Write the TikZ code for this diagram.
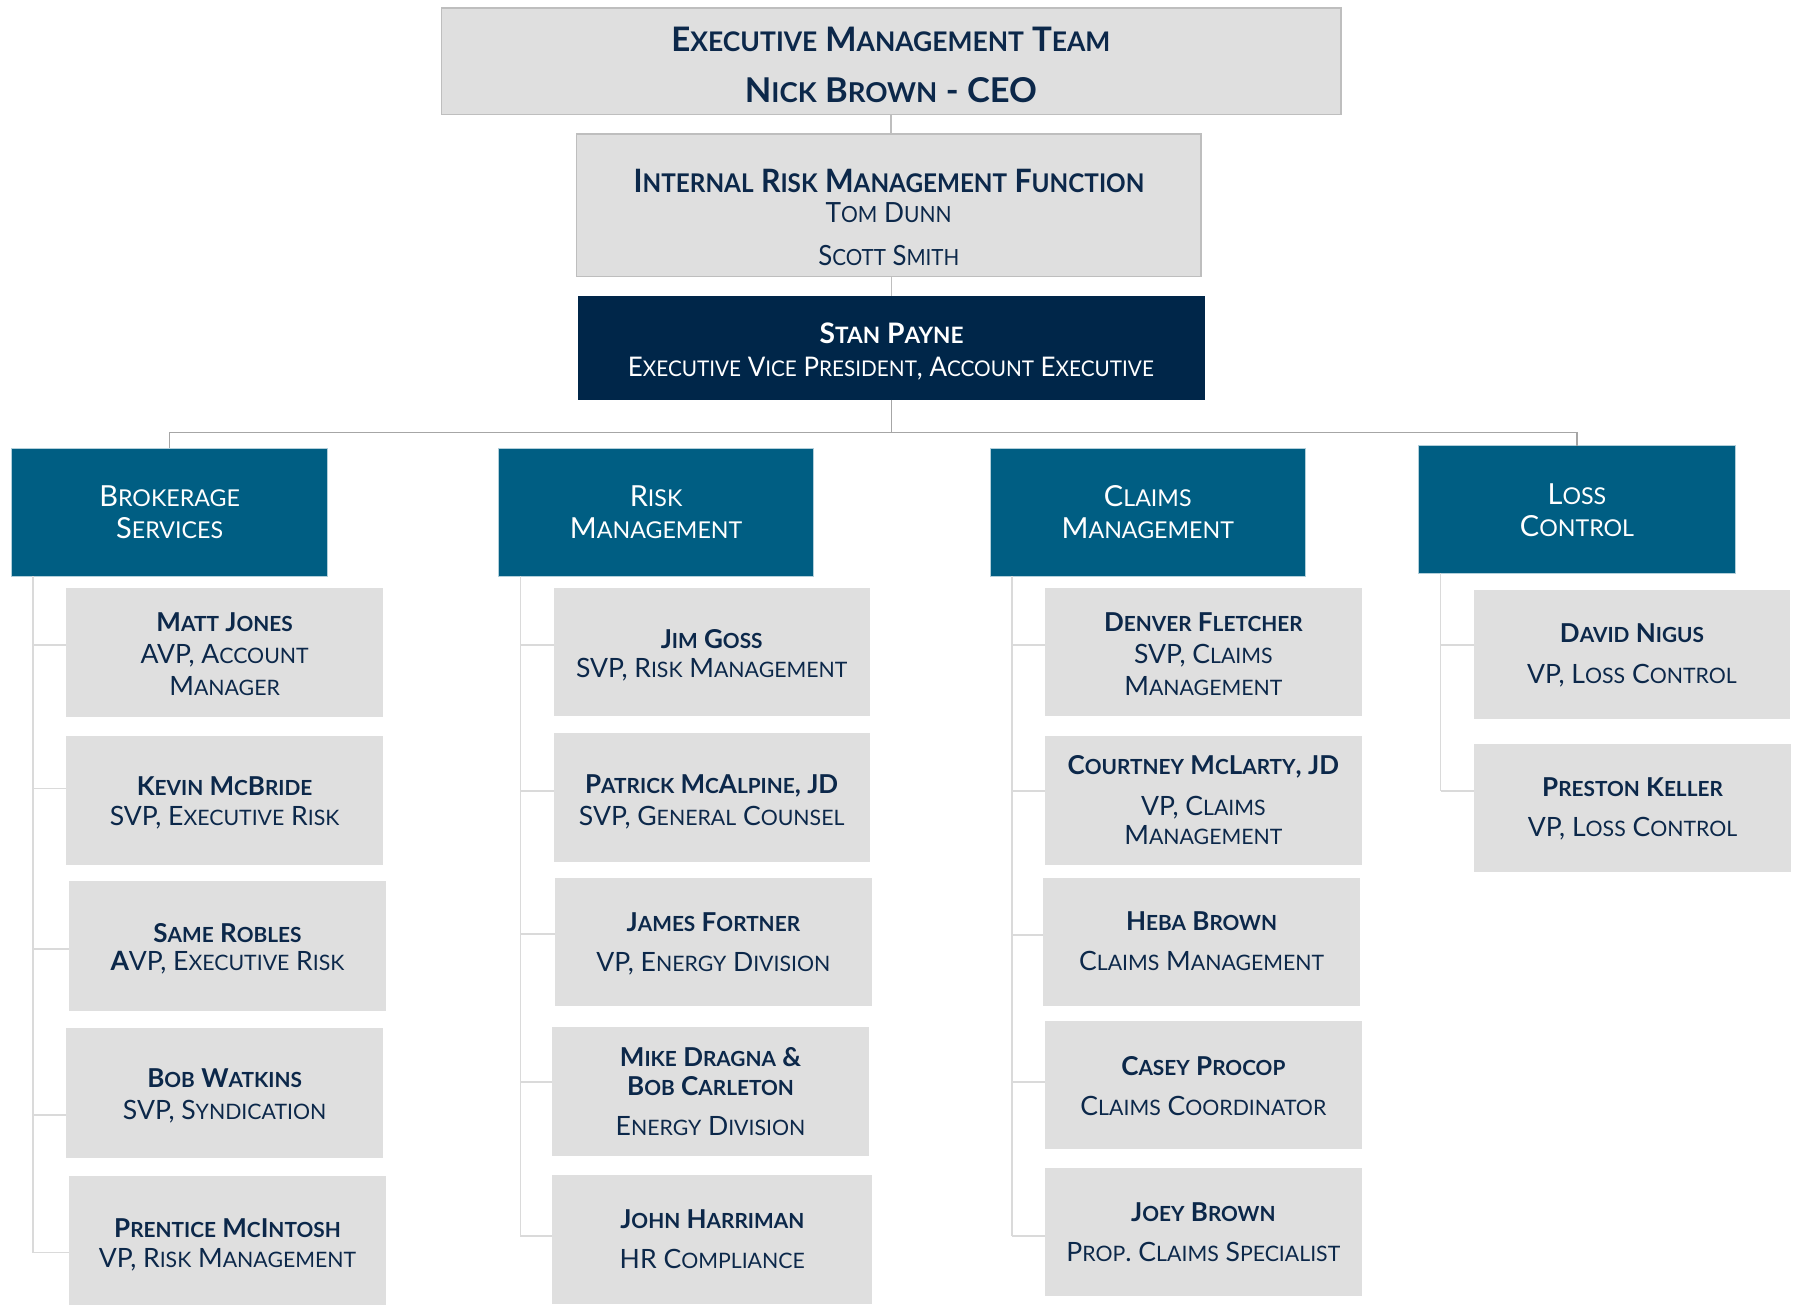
\documentclass[tikz,border=0pt]{standalone}
\usepackage{fontspec}
\usepackage{graphicx}
\setmainfont{Lato}

\definecolor{boxgray}{RGB}{223,223,223}
\definecolor{edgegray}{RGB}{190,190,190}
\definecolor{navy}{RGB}{0,38,73}
\definecolor{deptblue}{RGB}{0,94,131}
\definecolor{ink}{RGB}{12,40,74}
\definecolor{busgray}{RGB}{166,166,166}
\definecolor{stemgray}{RGB}{218,218,218}

% small capitals built from capitals: every run of lower-case letters is
% upper-cased at a reduced size
\ExplSyntaxOn
\NewDocumentCommand\fsc{m}
 {
  \tl_set:Nn \l_tmpa_tl {#1}
  \regex_replace_all:nnN { ([a-z]+) } { \c{lowsc}\cB\{\1\cE\} } \l_tmpa_tl
  \tl_use:N \l_tmpa_tl
 }
\ExplSyntaxOff
\makeatletter
\newcommand\lowsc[1]{{\fontsize{\fpeval{0.8*\f@size}}{\f@baselineskip}\selectfont\MakeUppercase{#1}}}
\makeatother

% box from its corners (x1,y1) (x2,y2), y measured downwards
\newcommand\boxnode[6]{%
  \node[#2, minimum width={(#5)-(#3)}, minimum height={(#6)-(#4)}] (#1)
    at ({((#3)+(#5))/2},{-((#4)+(#6))/2}) {};}
% one line of text, placed on its baseline
\newcommand\putline[5]{\node[#1] (#2) at (#3,-#4) {\fsc{#5}};}
% one line of text squeezed to a given width and cap height
\newcommand\fitline[7]{\node[#1] (#2) at (#3,-#4) {\resizebox{#5pt}{#6pt}{#7}};}

\begin{document}
\begin{tikzpicture}[x=1pt,y=1pt,
  box/.style={rectangle, fill=boxgray, inner sep=0pt, outer sep=0pt},
  topbox/.style={box, draw=edgegray, line width=1.2pt},
  leadbox/.style={rectangle, fill=navy, inner sep=0pt, outer sep=0pt},
  deptbox/.style={rectangle, fill=deptblue, draw=deptblue!30!white, line width=0.8pt, inner sep=0pt, outer sep=0pt},
  nm/.style={anchor=base, inner sep=0pt, text=ink, font=\fontsize{22.7}{26}\selectfont\bfseries},
  ttl/.style={anchor=base, inner sep=0pt, text=ink, font=\fontsize{23.2}{26}\selectfont},
  dtxt/.style={anchor=base, inner sep=0pt, text=white, font=\fontsize{25.3}{28}\selectfont},
  fit/.style={anchor=base, inner sep=0pt, text=ink},
  fitw/.style={anchor=base, inner sep=0pt, text=white},
  topline/.style={draw=edgegray, line width=1.3pt},
  bus/.style={draw=busgray, line width=1.3pt},
  stem/.style={draw=stemgray, line width=1.3pt}]

\fill[white] (0,0) rectangle (1568,-1140);
\useasboundingbox (0,0) rectangle (1568,-1140);

% ---------- top of the chart ----------
\boxnode{top}{topbox}{385}{7}{1170}{100}
\fitline{fit}{emt}{777.4}{45.1}{383}{21.3}{\bfseries\fsc{Executive Management Team}}
\fitline{fit}{ceo}{777.4}{89.6}{255}{21.8}{\bfseries\fsc{Nick Brown - CEO}}

\boxnode{irm}{topbox}{503}{117}{1048}{241}
\fitline{fit}{irmA}{775.8}{168.1}{445.6}{20.3}{\bfseries\fsc{Internal Risk Management Function}}
\fitline{fit}{irmB}{775.3}{194.3}{110}{17.4}{\fsc{Tom Dunn}}
\fitline{fit}{irmC}{775.6}{231.6}{123}{17.6}{\fsc{Scott Smith}}

\boxnode{stan}{leadbox}{504.4}{258}{1051}{349}
\fitline{fitw}{stanA}{778}{299.6}{125.5}{18}{\bfseries\fsc{Stan Payne}}
\fitline{fitw}{stanB}{777.4}{328.1}{459}{16.9}{\fsc{Executive Vice President, Account Executive}}

\draw[topline] (top.south) -- (top.south |- irm.north);
\draw[topline] (stan.north |- irm.south) -- (stan.north);

% ---------- departments ----------
\boxnode{brok}{deptbox}{10}{391}{286}{503}
\putline{dtxt}{brokA}{148}{442}{Brokerage}
\putline{dtxt}{brokB}{148}{470}{Services}

\boxnode{risk}{deptbox}{435}{391}{710}{503}
\putline{dtxt}{riskA}{572.5}{442}{Risk}
\putline{dtxt}{riskB}{572.5}{470}{Management}

\boxnode{claims}{deptbox}{864}{391}{1139}{503}
\putline{dtxt}{claimsA}{1001.5}{442}{Claims}
\putline{dtxt}{claimsB}{1001.5}{470}{Management}

\boxnode{loss}{deptbox}{1238}{389}{1514}{500}
\putline{dtxt}{lossA}{1376}{440}{Loss}
\putline{dtxt}{lossB}{1376}{468}{Control}

\coordinate (bus) at (778,-377.5);
\draw[bus] (stan.south) -- (stan.south |- bus);
\draw[bus] (brok.north) -- (brok.north |- bus) -- (loss.north |- bus) -- (loss.north);

% ---------- brokerage services ----------
\boxnode{matt}{box}{58}{513}{334}{626}
\putline{nm}{mattA}{196}{551}{Matt Jones}
\putline{ttl}{mattB}{196}{579}{AVP, Account}
\putline{ttl}{mattC}{196}{607}{Manager}

\boxnode{kevin}{box}{58}{642}{334}{755}
\putline{nm}{kevinA}{196}{694}{Kevin McBride}
\putline{ttl}{kevinB}{196}{720}{SVP, Executive Risk}

\boxnode{same}{box}{60}{769}{337}{882}
\putline{nm}{sameA}{198.5}{822}{Same Robles}
\putline{ttl}{sameB}{198.5}{847}{{\bfseries A}VP, Executive Risk}

\boxnode{bob}{box}{58}{897}{334}{1010}
\putline{nm}{bobA}{196}{949}{Bob Watkins}
\putline{ttl}{bobB}{196}{977}{SVP, Syndication}

\boxnode{prentice}{box}{60}{1026}{337}{1139}
\putline{nm}{prenticeA}{198.5}{1080}{Prentice McIntosh}
\putline{ttl}{prenticeB}{198.5}{1106}{VP, Risk Management}

\draw[stem] (brok.south -| 29,0) -- (29,-1093);
\draw[stem] (29,-563) -- (matt.west |- 0,-563);
\draw[stem] (29,-688) -- (kevin.west |- 0,-688);
\draw[stem] (29,-828) -- (same.west |- 0,-828);
\draw[stem] (29,-973) -- (bob.west |- 0,-973);
\draw[stem] (29,-1093) -- (prentice.west |- 0,-1093);

% ---------- risk management ----------
\boxnode{jim}{box}{483}{513}{759}{625}
\putline{nm}{jimA}{621}{566}{Jim Goss}
\putline{ttl}{jimB}{621}{591}{SVP, Risk Management}

\boxnode{patrick}{box}{483}{640}{759}{752}
\putline{nm}{patrickA}{621}{692}{Patrick McAlpine, JD}
\putline{ttl}{patrickB}{621}{720}{SVP, General Counsel}

\boxnode{james}{box}{484}{766}{761}{878}
\putline{nm}{jamesA}{622.5}{813}{James Fortner}
\putline{ttl}{jamesB}{622.5}{848}{VP, Energy Division}

\boxnode{mike}{box}{482}{896}{758}{1009}
\putline{nm}{mikeA}{620}{931}{Mike Dragna \&}
\putline{nm}{mikeB}{620}{956}{Bob Carleton}
\putline{ttl}{mikeC}{620}{991}{Energy Division}

\boxnode{john}{box}{482}{1025}{761}{1138}
\putline{nm}{johnA}{621.5}{1072}{John Harriman}
\putline{ttl}{johnB}{621.5}{1107}{HR Compliance}

\draw[stem] (risk.south -| 454,0) -- (454,-1078.5);
\draw[stem] (454,-563) -- (jim.west |- 0,-563);
\draw[stem] (454,-690) -- (patrick.west |- 0,-690);
\draw[stem] (454,-815) -- (james.west |- 0,-815);
\draw[stem] (454,-944) -- (mike.west |- 0,-944);
\draw[stem] (454,-1078.5) -- (john.west |- 0,-1078.5);

% ---------- claims management ----------
\boxnode{denver}{box}{912}{513}{1188}{625}
\putline{nm}{denverA}{1050}{551}{Denver Fletcher}
\putline{ttl}{denverB}{1050}{579}{SVP, Claims}
\putline{ttl}{denverC}{1050}{607}{Management}

\boxnode{courtney}{box}{912}{642}{1188}{755}
\putline{nm}{courtneyA}{1050}{676}{Courtney McLarty, JD}
\putline{ttl}{courtneyB}{1050}{712}{VP, Claims}
\putline{ttl}{courtneyC}{1050}{737}{Management}

\boxnode{heba}{box}{910}{766}{1187}{878}
\putline{nm}{hebaA}{1048.5}{812}{Heba Brown}
\putline{ttl}{hebaB}{1048.5}{847}{Claims Management}

\boxnode{casey}{box}{912}{891}{1188}{1003}
\putline{nm}{caseyA}{1050}{938}{Casey Procop}
\putline{ttl}{caseyB}{1050}{973}{Claims Coordinator}

\boxnode{joey}{box}{912}{1019}{1188}{1131}
\putline{nm}{joeyA}{1050}{1066}{Joey Brown}
\putline{ttl}{joeyB}{1050}{1101}{Prop. Claims Specialist}

\draw[stem] (claims.south -| 883,0) -- (883,-1078.5);
\draw[stem] (883,-563) -- (denver.west |- 0,-563);
\draw[stem] (883,-690) -- (courtney.west |- 0,-690);
\draw[stem] (883,-816) -- (heba.west |- 0,-816);
\draw[stem] (883,-944) -- (casey.west |- 0,-944);
\draw[stem] (883,-1078.5) -- (joey.west |- 0,-1078.5);

% ---------- loss control ----------
\boxnode{david}{box}{1286}{515}{1562}{627}
\putline{nm}{davidA}{1424}{561}{David Nigus}
\putline{ttl}{davidB}{1424}{596}{VP, Loss Control}

\boxnode{preston}{box}{1286}{649}{1563}{761}
\putline{nm}{prestonA}{1424.5}{695}{Preston Keller}
\putline{ttl}{prestonB}{1424.5}{730}{VP, Loss Control}

\draw[stem] (loss.south -| 1257,0) -- (1257,-690);
\draw[stem] (1257,-563) -- (david.west |- 0,-563);
\draw[stem] (1257,-690) -- (preston.west |- 0,-690);

\end{tikzpicture}
\end{document}
